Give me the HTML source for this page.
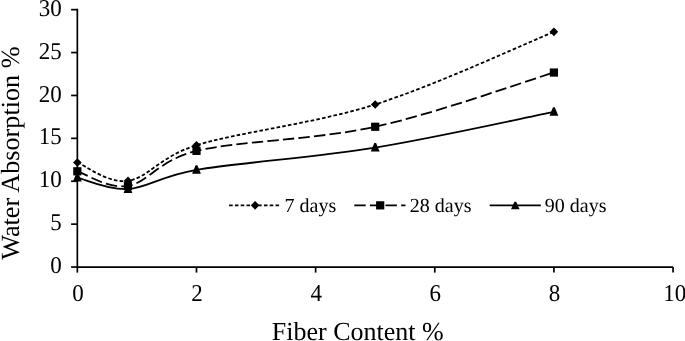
<!DOCTYPE html>
<html><head><meta charset="utf-8"><style>
html,body{margin:0;padding:0;background:#fff;width:685px;height:341px;overflow:hidden}
svg{display:block;will-change:transform}
text{font-family:"Liberation Serif",serif;fill:#000;text-rendering:geometricPrecision}
</style></head><body>
<svg width="685" height="341" viewBox="0 0 685 341">
<g stroke="#000" stroke-width="1.7" fill="none">
<path d="M77.35,8.80 V267.05 H673.05"/>
<path d="M71.1,267.05 H77.35"/>
<path d="M71.1,224.15 H77.35"/>
<path d="M71.1,181.25 H77.35"/>
<path d="M71.1,138.35 H77.35"/>
<path d="M71.1,95.45 H77.35"/>
<path d="M71.1,52.55 H77.35"/>
<path d="M71.1,9.65 H77.35"/>
<path d="M77.35,267.05 V272.6"/>
<path d="M196.49,267.05 V272.6"/>
<path d="M315.63,267.05 V272.6"/>
<path d="M434.77,267.05 V272.6"/>
<path d="M553.91,267.05 V272.6"/>
<path d="M673.05,267.05 V272.6"/>
</g>
<g font-size="23" text-anchor="end">
<text transform="translate(61.8,273.15) scale(1,1.05)">0</text>
<text transform="translate(61.8,230.25) scale(1,1.05)">5</text>
<text transform="translate(61.8,187.35) scale(1,1.05)">10</text>
<text transform="translate(61.8,144.45) scale(1,1.05)">15</text>
<text transform="translate(61.8,101.55) scale(1,1.05)">20</text>
<text transform="translate(61.8,58.65) scale(1,1.05)">25</text>
<text transform="translate(61.8,15.75) scale(1,1.05)">30</text>
</g>
<g font-size="23" text-anchor="middle">
<text transform="translate(77.95,300.9) scale(1,1.05)">0</text>
<text transform="translate(197.09,300.9) scale(1,1.05)">2</text>
<text transform="translate(316.23,300.9) scale(1,1.05)">4</text>
<text transform="translate(435.37,300.9) scale(1,1.05)">6</text>
<text transform="translate(554.51,300.9) scale(1,1.05)">8</text>
<text transform="translate(674.85,300.9) scale(1,1.05)">10</text>
</g>
<text x="357.8" y="340" font-size="26" text-anchor="middle">Fiber Content %</text>
<text transform="translate(18.7,153.1) rotate(-90)" font-size="26.2" text-anchor="middle">Water Absorption %</text>
<path d="M77.35,162.55 C85.79,165.61 108.13,183.80 127.98,180.91 C147.84,178.02 159.59,156.62 196.49,145.21 C237.69,132.47 315.63,123.35 375.20,104.46 C434.77,85.57 524.12,43.97 553.91,31.87" fill="none" stroke="#000" stroke-width="1.8" stroke-dasharray="3.6 2.2"/>
<path d="M77.35,171.30 C85.79,173.74 108.13,189.37 127.98,185.97 C147.84,182.57 159.06,159.84 196.49,150.88 C237.69,141.01 315.63,139.82 375.20,126.77 C434.77,113.71 524.12,81.58 553.91,72.54" fill="none" stroke="#000" stroke-width="1.8" stroke-dasharray="11.4 4.2"/>
<path d="M77.35,177.56 C85.79,179.48 108.13,190.34 127.98,189.06 C147.84,187.77 161.41,175.73 196.49,169.84 C237.69,162.92 315.63,157.20 375.20,147.53 C434.77,137.86 524.12,117.79 553.91,111.84" fill="none" stroke="#000" stroke-width="1.8"/>
<g fill="#000">
<path d="M77.35,158.25 L81.65,162.55 L77.35,166.85 L73.05,162.55Z"/>
<path d="M127.98,176.61 L132.28,180.91 L127.98,185.21 L123.68,180.91Z"/>
<path d="M196.49,140.91 L200.79,145.21 L196.49,149.51 L192.19,145.21Z"/>
<path d="M375.20,100.16 L379.50,104.46 L375.20,108.76 L370.90,104.46Z"/>
<path d="M553.91,27.57 L558.21,31.87 L553.91,36.17 L549.61,31.87Z"/>
<rect x="73.25" y="167.20" width="8.2" height="8.2"/>
<rect x="123.88" y="181.87" width="8.2" height="8.2"/>
<rect x="192.39" y="146.78" width="8.2" height="8.2"/>
<rect x="371.10" y="122.67" width="8.2" height="8.2"/>
<rect x="549.81" y="68.44" width="8.2" height="8.2"/>
<path d="M76.45,173.02 L78.25,173.02 L81.75,181.42 L72.95,181.42Z"/>
<path d="M127.08,184.52 L128.88,184.52 L132.38,192.92 L123.58,192.92Z"/>
<path d="M195.59,165.30 L197.39,165.30 L200.89,173.70 L192.09,173.70Z"/>
<path d="M374.30,142.99 L376.10,142.99 L379.60,151.39 L370.80,151.39Z"/>
<path d="M553.01,107.30 L554.81,107.30 L558.31,115.70 L549.51,115.70Z"/>
</g>
<path d="M229.1,205.35 H279.3" stroke="#000" stroke-width="1.8" stroke-dasharray="3.6 2.2"/>
<path d="M354.3,205.35 H405.5" stroke="#000" stroke-width="1.8" stroke-dasharray="11.4 4.2"/>
<path d="M489.7,205.35 H540.8" stroke="#000" stroke-width="1.8"/>
<g fill="#000">
<path d="M255.10,201.05 L259.40,205.35 L255.10,209.65 L250.80,205.35Z"/>
<rect x="376.10" y="201.25" width="8.2" height="8.2"/>
<path d="M514.40,201.65 L516.20,201.65 L519.60,209.25 L511.00,209.25Z"/>
</g>
<g font-size="20">
<text x="284.5" y="211.9">7 days</text>
<text x="409.8" y="211.9">28 days</text>
<text x="544.8" y="211.9">90 days</text>
</g>
</svg></body></html>
